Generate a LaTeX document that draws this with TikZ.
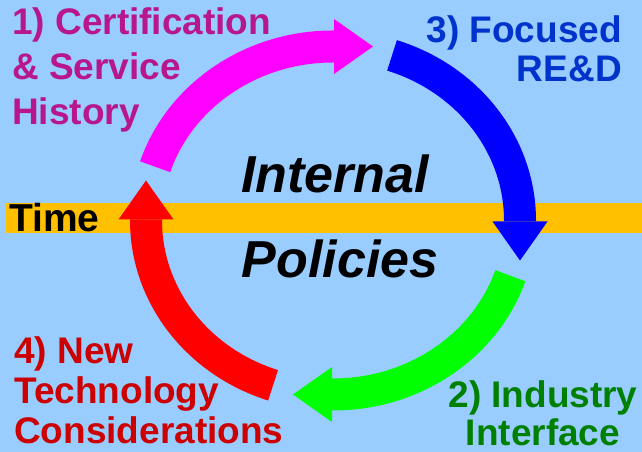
\documentclass[tikz,border=0pt]{standalone}
\usepackage{fontspec}
\setmainfont{Liberation Sans}
\usetikzlibrary{arrows.meta}
\definecolor{skyback}{RGB}{153,204,255}
\definecolor{timeband}{RGB}{255,192,0}
\definecolor{certarc}{RGB}{255,0,255}
\definecolor{focusarc}{RGB}{0,0,255}
\definecolor{industryarc}{RGB}{0,255,0}
\definecolor{techarc}{RGB}{255,0,0}
\definecolor{certtext}{RGB}{184,22,140}
\definecolor{focustext}{RGB}{0,51,204}
\definecolor{industrytext}{RGB}{0,128,0}
\definecolor{techtext}{RGB}{204,0,0}
\tikzset{every node/.style={font=\bfseries\fontsize{37}{40}\selectfont,inner sep=0pt},
  stagearc/.style={line width=32pt,-{Triangle[width=55pt,length=39pt,line width=0pt]}}}

\begin{document}
\begin{tikzpicture}[x=1pt,y=1pt]
  \path[use as bounding box] (0,0) rectangle (642,452);
  \fill[skyback] (0,0) rectangle (642,452);
  \fill[timeband] (6,219) rectangle (642,249);
  \node[anchor=base west,font=\bfseries\fontsize{39}{39}\selectfont] (time) at (9,220) {Time};

  % four stages round the policies
  \coordinate (hub) at (333,231.5);
  \draw[stagearc,certarc] ([shift={(hub)}]162:187pt and 174pt)
    arc[start angle=162,end angle=90,x radius=187pt,y radius=174pt] -- ++(40pt,0);
  \draw[stagearc,focusarc] ([shift={(hub)}]71.6:187pt and 174pt)
    arc[start angle=71.6,end angle=0,x radius=187pt,y radius=174pt] -- ++(0,-40pt);
  \draw[stagearc,industryarc] ([shift={(hub)}]-18.5:187pt and 174pt)
    arc[start angle=-18.5,end angle=-90,x radius=187pt,y radius=174pt] -- ++(-40pt,0);
  \draw[stagearc,techarc] ([shift={(hub)}]251.3:187pt and 174pt)
    arc[start angle=251.3,end angle=180,x radius=187pt,y radius=174pt] -- ++(0,40pt);

  \node[anchor=base,font=\bfseries\itshape\fontsize{52}{52}\selectfont] (internal) at (335,259) {Internal};
  \node[anchor=base,font=\bfseries\itshape\fontsize{52}{52}\selectfont] (policies) at (340,174) {Policies};

  % multi-line labels sit on their last line
  \node[anchor=base west,align=left,text=certtext,font=\bfseries\fontsize{37}{45}\selectfont] (cert) at (12,327)
    {1) Certification\\\& Service\\History};
  \node[anchor=base east,align=right,text=focustext,font=\bfseries\fontsize{37}{39}\selectfont] (focus) at (622,370)
    {3) Focused\\RE\&D};
  \node[anchor=base,align=center,text=industrytext,font=\bfseries\fontsize{37}{38}\selectfont] (industry) at (543,6)
    {2) Industry\\Interface};
  \node[anchor=base west,align=left,text=techtext,font=\bfseries\fontsize{37}{40}\selectfont] (newtech) at (14,9)
    {4) New\\Technology\\Considerations};
\end{tikzpicture}
\end{document}
